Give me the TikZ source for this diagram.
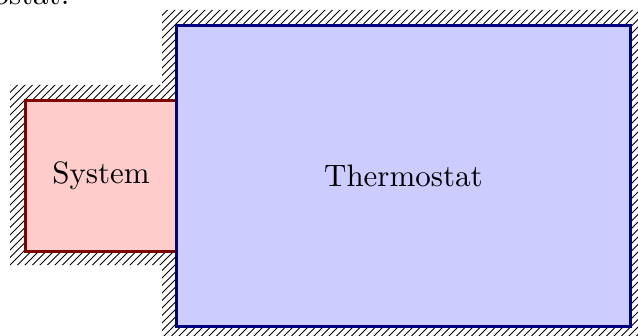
\documentclass[tikz,border=0pt]{standalone}
\begin{document}
\begin{tikzpicture}[x=0.323pt,y=-0.323pt,
  box/.style={draw, line width=0.95pt, inner sep=0pt, outer sep=0pt},
  sysbox/.style={box, draw=red!50!black, fill=red!20},
  thbox/.style={box, draw=blue!50!black, fill=blue!20},
  hatch/.style={line width=0.33pt, black}]
\useasboundingbox (0,0) rectangle (638,336);
\node[anchor=base east, inner sep=0pt] (cap) at (70,5) {thermostat.};
\begin{scope}
  \clip (10,85) rectangle (190,265) (162,10) rectangle (660,350);
  \foreach \k in {-400,-392.5,...,700} \draw[hatch] (\k,360) -- ++(400,-400);
\end{scope}
\node[sysbox, minimum width=151*0.323pt, minimum height=150.6*0.323pt] (sys) at (101,176) {System};
\node[thbox, minimum width=453.8*0.323pt, minimum height=301*0.323pt] (thermo) at (403.4,175.8) {Thermostat};
\end{tikzpicture}
\end{document}
